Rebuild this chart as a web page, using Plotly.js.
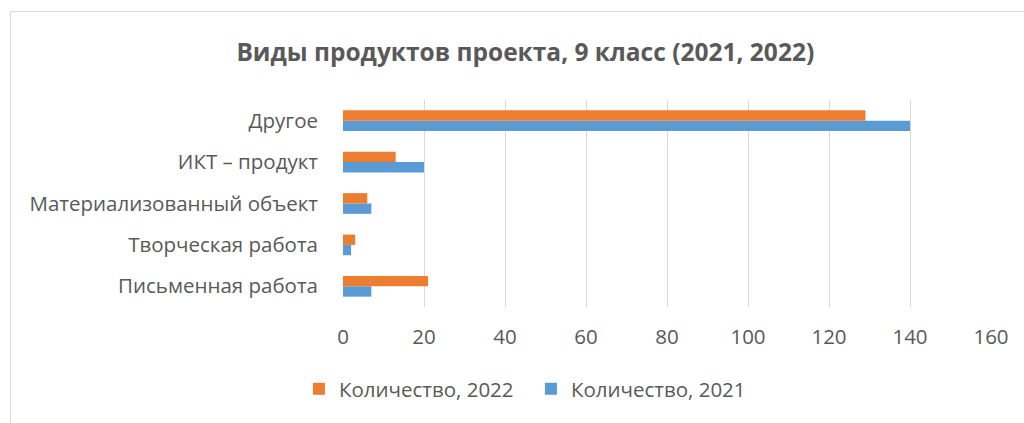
<!DOCTYPE html>
<html>
<head>
<meta charset="utf-8">
<script src="https://cdn.plot.ly/plotly-3.0.1.min.js"></script>
<style>
  body { margin: 0; overflow: hidden; background: #fff; }
  #wrap { position: relative; width: 1024px; height: 423px; overflow: hidden; }
  #frame { position: absolute; left: 10px; top: 11px; width: 1100px; height: 500px;
           border: 1px solid #d9d9d9; pointer-events: none; }
</style>
</head>
<body>
<div id="wrap">
  <div id="myDiv" style="width:1024px;height:423px;"></div>
  <div id="frame"></div>
</div>
<script>
// categories listed bottom to top
var categories = ['Письменная работа', 'Творческая работа', 'Материализованный объект', 'ИКТ – продукт', 'Другое'];
var count2021 = [7, 2, 7, 20, 140];
var count2022 = [21, 3, 6, 13, 129];
var tickVals = [0, 20, 40, 60, 80, 100, 120, 140, 160];

var font = 'Open Sans, Noto Sans, sans-serif';

var data = [
    {y: categories, x: count2021, type: 'bar', orientation: 'h',
     name: 'Количество, 2021', marker: {color: '#5B9BD5'}},
    {y: categories, x: count2022, type: 'bar', orientation: 'h',
     name: 'Количество, 2022', marker: {color: '#ED7D31'}}
];

var layout = {
    title: {
        text: '<b>Виды продуктов проекта, 9 класс (2021, 2022)</b>',
        font: {family: font, size: 24.5, color: '#595959'},
        x: 0.513, xanchor: 'center', y: 0.877, yanchor: 'middle', yref: 'container'
    },
    width: 1024,
    height: 423,
    margin: {l: 343, r: 33, t: 100, b: 116},
    barmode: 'group',
    bargap: 0.5,
    bargroupgap: 0,
    showlegend: true,
    font: {family: font, size: 20, color: '#595959'},
    xaxis: {
        range: [0, 160],
        tickvals: tickVals,
        showgrid: true,
        gridcolor: '#d9d9d9',
        gridwidth: 1,
        zeroline: false,
        showline: false,
        ticks: '',
        ticklabelstandoff: 15,
        tickfont: {size: 20.5, color: '#595959'}
    },
    yaxis: {
        type: 'category',
        showgrid: false,
        zeroline: false,
        showline: false,
        ticks: '',
        ticklabelstandoff: 24,
        tickfont: {size: 20.5, color: '#595959'}
    },
    legend: {
        orientation: 'h',
        traceorder: 'reversed',
        entrywidth: 187,
        itemwidth: 30,
        x: 0.29, xanchor: 'center',
        y: -0.396, yanchor: 'middle',
        font: {size: 20.5, color: '#595959'}
    },
    plot_bgcolor: '#fff',
    paper_bgcolor: '#fff'
};
Plotly.newPlot('myDiv', data, layout, {displayModeBar: false});
</script>
</body>
</html>
